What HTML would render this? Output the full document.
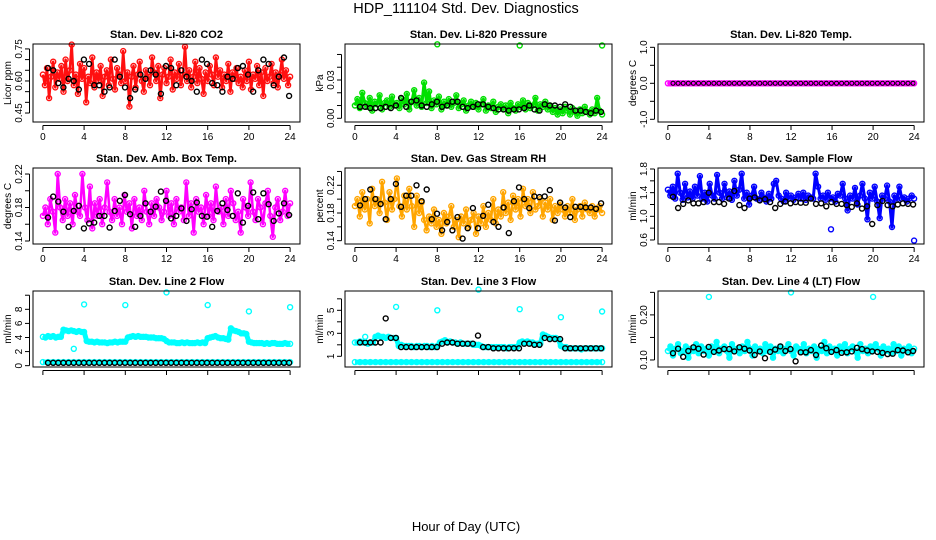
<!DOCTYPE html>
<html><head><meta charset="utf-8"><style>
html,body{margin:0;padding:0;background:#fff;}
svg{display:block;font-family:"Liberation Sans",sans-serif;}
</style></head><body>
<svg id="chart" width="936" height="540" viewBox="0 0 936 540">
<text x="466" y="13" text-anchor="middle" font-size="14.5">HDP_111104  Std. Dev. Diagnostics</text>
<text x="466" y="531" text-anchor="middle" font-size="13">Hour of Day (UTC)</text>
</svg>
<script>
// ---- data ----
const xTicks = [0,4,8,12,16,20,24];
const co2Color = [0.63,0.58,0.66,0.52,0.62,0.69,0.57,0.64,0.61,0.67,0.55,0.70,0.60,0.65,0.77,0.58,0.63,0.54,0.68,0.61,0.66,0.50,0.62,0.59,0.71,0.57,0.64,0.60,0.67,0.53,0.62,0.65,0.58,0.70,0.61,0.56,0.66,0.63,0.59,0.74,0.60,0.64,0.48,0.62,0.67,0.57,0.63,0.69,0.60,0.55,0.65,0.62,0.58,0.71,0.64,0.60,0.67,0.52,0.63,0.66,0.59,0.62,0.70,0.56,0.64,0.61,0.68,0.58,0.63,0.76,0.60,0.65,0.57,0.62,0.69,0.59,0.66,0.61,0.54,0.64,0.60,0.67,0.63,0.58,0.71,0.62,0.65,0.57,0.63,0.60,0.68,0.55,0.64,0.61,0.66,0.59,0.62,0.57,0.65,0.60,0.69,0.56,0.63,0.61,0.67,0.58,0.64,0.53,0.66,0.60,0.62,0.68,0.59,0.64,0.57,0.63,0.70,0.61,0.65,0.58,0.62];
const co2Black = [0.66,0.65,0.59,0.57,0.61,0.60,0.56,0.70,0.68,0.58,0.58,0.55,0.57,0.70,0.62,0.57,0.52,0.56,0.63,0.61,0.65,0.63,0.54,0.67,0.66,0.58,0.65,0.62,0.60,0.55,0.70,0.68,0.59,0.58,0.55,0.62,0.61,0.66,0.67,0.63,0.55,0.65,0.70,0.68,0.58,0.62,0.71,0.53];
const presColor = [0.010,0.015,0.008,0.020,0.012,0.009,0.016,0.006,0.013,0.011,0.018,0.007,0.012,0.014,0.009,0.017,0.010,0.012,0.008,0.015,0.011,0.019,0.007,0.013,0.022,0.010,0.016,0.009,0.028,0.012,0.021,0.008,0.014,0.011,0.017,0.007,0.013,0.010,0.015,0.009,0.012,0.018,0.008,0.011,0.014,0.006,0.010,0.013,0.009,0.012,0.007,0.011,0.015,0.006,0.010,0.008,0.013,0.005,0.009,0.011,0.007,0.010,0.004,0.012,0.008,0.006,0.011,0.009,0.014,0.007,0.012,0.008,0.010,0.016,0.006,0.011,0.009,0.013,0.007,0.010,0.005,0.008,0.003,0.007,0.004,0.009,0.006,0.003,0.008,0.005,0.002,0.007,0.004,0.009,0.005,0.003,0.007,0.004,0.016,0.006,0.003];
const presBlack = [0.009,0.009,0.008,0.008,0.008,0.009,0.008,0.010,0.016,0.009,0.013,0.014,0.010,0.009,0.011,0.013,0.009,0.010,0.013,0.013,0.009,0.008,0.009,0.011,0.011,0.009,0.008,0.007,0.007,0.006,0.007,0.007,0.008,0.010,0.007,0.006,0.011,0.010,0.010,0.009,0.011,0.009,0.006,0.006,0.005,0.004,0.006,0.005];
const presSpikeHours = [8,16,24];
const presSpikeVals = [0.058,0.057,0.057];
const tempColor = [0,0,0,0,0,0,0,0,0,0,0,0,0,0,0,0,0,0,0,0,0,0,0,0,0,0,0,0,0,0,0,0,0,0,0,0,0,0,0,0,0,0,0,0,0,0,0,0,0,0,0,0,0,0,0,0,0,0,0,0,0,0,0,0,0,0,0,0,0,0,0,0,0,0,0,0,0,0,0,0,0,0,0,0,0,0,0,0,0,0,0,0,0,0,0,0,0];
const tempBlack = [0,0,0,0,0,0,0,0,0,0,0,0,0,0,0,0,0,0,0,0,0,0,0,0,0,0,0,0,0,0,0,0,0,0,0,0,0,0,0,0,0,0,0,0,0,0,0,0];
const ambColor = [0.17,0.18,0.16,0.19,0.175,0.15,0.22,0.18,0.165,0.19,0.17,0.185,0.16,0.195,0.175,0.17,0.22,0.18,0.165,0.205,0.155,0.185,0.17,0.19,0.16,0.18,0.21,0.175,0.165,0.19,0.17,0.18,0.16,0.195,0.175,0.185,0.155,0.19,0.17,0.18,0.165,0.2,0.175,0.16,0.185,0.17,0.19,0.18,0.165,0.175,0.2,0.17,0.185,0.16,0.19,0.175,0.18,0.165,0.21,0.17,0.185,0.15,0.19,0.175,0.18,0.16,0.195,0.17,0.185,0.165,0.205,0.175,0.18,0.16,0.19,0.17,0.2,0.185,0.165,0.175,0.15,0.19,0.18,0.17,0.21,0.175,0.165,0.19,0.18,0.16,0.185,0.2,0.17,0.145,0.18,0.19,0.165,0.175,0.2,0.17,0.185];
const ambBlack = [0.168,0.193,0.187,0.175,0.157,0.176,0.182,0.155,0.161,0.162,0.170,0.170,0.156,0.176,0.188,0.195,0.172,0.157,0.170,0.185,0.175,0.181,0.199,0.188,0.167,0.170,0.179,0.164,0.178,0.186,0.170,0.169,0.157,0.176,0.185,0.177,0.170,0.197,0.162,0.182,0.198,0.166,0.197,0.184,0.164,0.173,0.185,0.171];
const rhColor = [0.19,0.2,0.175,0.21,0.185,0.2,0.165,0.215,0.19,0.2,0.18,0.225,0.195,0.17,0.21,0.185,0.2,0.23,0.19,0.175,0.205,0.185,0.215,0.19,0.16,0.205,0.18,0.195,0.17,0.155,0.175,0.165,0.185,0.16,0.17,0.15,0.18,0.165,0.175,0.19,0.16,0.17,0.145,0.175,0.165,0.185,0.16,0.17,0.18,0.15,0.175,0.165,0.19,0.16,0.18,0.17,0.2,0.165,0.185,0.175,0.21,0.18,0.195,0.17,0.205,0.185,0.2,0.175,0.215,0.19,0.2,0.18,0.21,0.185,0.19,0.2,0.175,0.195,0.185,0.2,0.17,0.19,0.18,0.195,0.185,0.175,0.19,0.18,0.2,0.17,0.185,0.19,0.175,0.195,0.185,0.18,0.19,0.175,0.185,0.19,0.18];
const rhBlack = [0.191,0.200,0.214,0.200,0.193,0.171,0.200,0.222,0.189,0.205,0.205,0.220,0.197,0.214,0.171,0.179,0.155,0.167,0.155,0.174,0.143,0.158,0.187,0.158,0.176,0.192,0.167,0.160,0.188,0.151,0.197,0.217,0.200,0.187,0.204,0.203,0.204,0.213,0.169,0.195,0.188,0.174,0.189,0.189,0.188,0.188,0.186,0.194];
const flowColor = [1.45,1.35,1.5,1.3,1.72,1.4,1.28,1.55,1.32,1.42,1.3,1.5,1.35,1.68,1.3,1.4,1.25,1.55,1.35,1.3,1.7,1.4,1.3,1.55,1.32,1.42,1.28,1.6,1.35,1.45,1.72,1.3,1.4,1.2,1.35,1.5,1.3,1.28,1.4,1.32,1.25,1.38,1.3,1.55,1.6,1.35,1.3,1.25,1.4,1.3,1.35,1.28,1.32,1.38,1.3,1.4,1.28,1.35,1.32,1.3,1.72,1.5,1.3,1.35,1.28,1.4,1.3,1.32,1.25,1.38,1.35,1.55,1.3,1.1,1.35,1.3,1.48,1.2,1.35,1.55,1.3,0.95,1.4,1.3,1.5,1.25,0.97,1.35,1.3,1.52,1.25,0.82,1.35,1.28,1.5,1.3,1.32,1.25,1.3,1.35,1.3];
const flowBlack = [1.33,1.14,1.21,1.27,1.22,1.22,1.24,1.40,1.24,1.24,1.21,1.30,1.43,1.19,1.14,1.30,1.32,1.27,1.29,1.24,1.14,1.21,1.25,1.22,1.24,1.23,1.23,1.30,1.21,1.22,1.17,1.24,1.21,1.21,1.19,1.16,1.22,1.13,1.17,0.87,1.19,1.26,1.19,1.17,1.20,1.22,1.21,1.20];
const flowLowHours = [15.9,24];
const flowLowVals = [0.78,0.59];
const l2Color = [4.1,4.0,4.2,4.1,4.2,4.0,4.1,4.1,5.1,5.0,4.9,5.0,4.9,4.8,4.9,4.8,4.8,3.5,3.4,3.4,3.3,3.4,3.3,3.3,3.3,3.2,3.3,3.3,3.4,3.3,3.4,3.4,3.4,4.0,4.1,4.2,4.1,4.2,4.1,4.1,4.1,4.0,4.0,4.0,3.9,3.9,3.9,3.8,3.5,3.3,3.3,3.3,3.2,3.2,3.3,3.2,3.3,3.2,3.2,3.2,3.3,3.2,3.3,3.2,3.9,4.0,4.1,4.2,4.0,3.9,3.9,3.8,3.7,5.3,5.0,4.9,4.8,4.6,4.6,4.5,3.4,3.3,3.2,3.2,3.2,3.2,3.1,3.2,3.1,3.2,3.2,3.1,3.1,3.1,3.2,3.1,3.1];
const l2Low = [0.5,0.5,0.5,0.5,0.5,0.5,0.5,0.5,0.5,0.5,0.5,0.5,0.5,0.5,0.5,0.5,0.5,0.5,0.5,0.5,0.5,0.5,0.5,0.5,0.5,0.5,0.5,0.5,0.5,0.5,0.5,0.5,0.5,0.5,0.5,0.5,0.5,0.5,0.5,0.5,0.5,0.5,0.5,0.5,0.5,0.5,0.5,0.5,0.5];
const l2Black = [0.4,0.4,0.4,0.4,0.4,0.4,0.4,0.4,0.4,0.4,0.4,0.4,0.4,0.4,0.4,0.4,0.4,0.4,0.4,0.4,0.4,0.4,0.4,0.4,0.4,0.4,0.4,0.4,0.4,0.4,0.4,0.4,0.4,0.4,0.4,0.4,0.4,0.4,0.4,0.4,0.4,0.4,0.4,0.4,0.4,0.4,0.4,0.4];
const l2SpikeHours = [3.0,4,8,12,16,20,24];
const l2SpikeVals = [2.4,8.7,8.6,10.4,8.6,7.7,8.3];
const l3Color = [2.2,2.2,2.3,2.2,2.2,2.1,2.2,2.2,2.7,2.8,2.7,2.7,2.6,2.7,2.6,2.6,2.6,1.9,2.0,1.9,1.9,1.9,1.9,1.8,1.9,1.9,1.8,1.9,1.9,1.8,1.9,1.8,1.9,2.2,2.3,2.4,2.2,2.3,2.2,2.2,2.1,2.2,2.1,2.1,2.1,2.1,2.0,2.0,2.0,1.9,1.8,1.8,1.8,1.8,1.8,1.8,1.8,1.8,1.8,1.7,1.8,1.8,1.8,1.8,2.2,2.3,2.2,2.3,2.2,2.2,2.1,2.1,2.1,2.9,2.8,2.7,2.6,2.6,2.6,2.5,1.9,1.8,1.8,1.7,1.7,1.7,1.7,1.7,1.6,1.7,1.7,1.7,1.7,1.7,1.7,1.7,1.7];
const l3Low = [0.5,0.5,0.5,0.5,0.5,0.5,0.5,0.5,0.5,0.5,0.5,0.5,0.5,0.5,0.5,0.5,0.5,0.5,0.5,0.5,0.5,0.5,0.5,0.5,0.5,0.5,0.5,0.5,0.5,0.5,0.5,0.5,0.5,0.5,0.5,0.5,0.5,0.5,0.5,0.5,0.5,0.5,0.5,0.5,0.5,0.5,0.5,0.5,0.5];
const l3Black = [2.2,2.2,2.2,2.2,2.2,4.3,2.6,2.6,1.8,1.8,1.8,1.8,1.8,1.8,1.8,1.8,2.1,2.2,2.2,2.1,2.1,2.1,2.1,2.8,1.8,1.8,1.7,1.7,1.7,1.7,1.7,1.7,2.1,2.1,2.0,2.0,2.6,2.5,2.5,2.5,1.7,1.7,1.7,1.7,1.7,1.7,1.7,1.7];
const l3SpikeHours = [1.0,4,8,12,16,20,24];
const l3SpikeVals = [2.7,5.3,5.0,6.8,5.1,4.4,4.9];
const l4Color = [0.12,0.13,0.11,0.125,0.135,0.115,0.12,0.13,0.105,0.125,0.12,0.135,0.115,0.13,0.12,0.125,0.11,0.13,0.12,0.14,0.115,0.125,0.13,0.12,0.105,0.135,0.12,0.125,0.115,0.13,0.12,0.14,0.125,0.11,0.13,0.12,0.125,0.115,0.135,0.12,0.13,0.105,0.125,0.12,0.13,0.115,0.125,0.135,0.12,0.11,0.13,0.125,0.12,0.135,0.115,0.125,0.12,0.13,0.105,0.125,0.12,0.14,0.115,0.13,0.12,0.125,0.11,0.13,0.12,0.135,0.115,0.125,0.13,0.12,0.105,0.135,0.12,0.125,0.115,0.13,0.12,0.135,0.125,0.11,0.13,0.12,0.125,0.115,0.135,0.12,0.13,0.11,0.125,0.12,0.13,0.115,0.125];
const l4Black = [0.115,0.125,0.107,0.120,0.128,0.125,0.112,0.129,0.118,0.121,0.124,0.124,0.119,0.128,0.125,0.121,0.111,0.119,0.104,0.118,0.123,0.130,0.120,0.124,0.097,0.117,0.117,0.122,0.111,0.132,0.126,0.118,0.122,0.116,0.117,0.119,0.127,0.124,0.121,0.119,0.118,0.116,0.113,0.114,0.122,0.121,0.117,0.120];
const l4SpikeHours = [4,12,20];
const l4SpikeVals = [0.24,0.25,0.24];

// ---- layout ----
const NS = "http://www.w3.org/2000/svg";
const svg = document.getElementById('chart');
const cols = [{x0:33,x1:300},{x0:345,x1:612},{x0:658,x1:924}];
const rows = [{y0:44,y1:122},{y0:168,y1:244},{y0:291,y1:367}];
function mk(tag, attrs, parent){const e=document.createElementNS(NS,tag);for(const k in attrs)e.setAttribute(k,attrs[k]);(parent||svg).appendChild(e);return e;}

function panel(ci, ri, title, ylab, yMin, yMax, yTicks, yLabels, showXLabels, series, slug){
  const c=cols[ci], r=rows[ri];
  const g=mk('g',{});
  
  
  const xs=h=>c.x0+(h+0.96)/25.92*(c.x1-c.x0);
  const ys=v=>r.y1-(v-yMin)/(yMax-yMin)*(r.y1-r.y0);
  const t=mk('text',{x:(c.x0+c.x1)/2,y:r.y0-6,'text-anchor':'middle','font-size':'11','font-weight':'bold'},g);
  t.textContent=title;
  
  
  const yl=mk('text',{x:0,y:0,'text-anchor':'middle','font-size':'10',transform:`translate(${c.x0-22},${(r.y0+r.y1)/2}) rotate(-90)`},g);
  yl.textContent=ylab;
  
  
  // points
  series.forEach(s=>{
    const sg=mk('g',{fill:'none',stroke:s.color,'stroke-width':s.sw||1.4},g);
    
    
    const n=s.vals.length;
    const pts=s.vals.map((v,i)=>{
      const h = s.hours ? s.hours[i] : (s.h0||0) + i*((s.h1||24)-(s.h0||0))/(n-1);
      return [xs(h), ys(v)];
    });
    if(s.band){
      const pl=mk('polyline',{points:pts.map(p=>p[0].toFixed(1)+','+p[1].toFixed(1)).join(' '),'stroke-width':s.band,'stroke-linejoin':'round'},sg);
      
      
    }
    pts.forEach(p=>{
      const cc=mk('circle',{cx:p[0].toFixed(1),cy:p[1].toFixed(1),r:s.r||2.5},sg);
      
      
    });
  });
  const box=mk('rect',{x:c.x0,y:r.y0,width:c.x1-c.x0,height:r.y1-r.y0,fill:'none',stroke:'#000','stroke-width':1},g);
  
  
  // x axis
  const xa=mk('g',{stroke:'#000','stroke-width':1},g);
  
  
  mk('line',{x1:xs(0),x2:xs(24),y1:r.y1+3.5,y2:r.y1+3.5},xa);
  xTicks.forEach(h=>{
    mk('line',{x1:xs(h),x2:xs(h),y1:r.y1+3.5,y2:r.y1+8},xa);
    if(showXLabels){const tl=mk('text',{x:xs(h),y:r.y1+18,'text-anchor':'middle','font-size':'10',stroke:'none'},xa);tl.textContent=h;}
  });
  // y axis
  const ya=mk('g',{stroke:'#000','stroke-width':1},g);
  
  
  mk('line',{x1:c.x0-3.5,x2:c.x0-3.5,y1:ys(yTicks[0]),y2:ys(yTicks[yTicks.length-1])},ya);
  yTicks.forEach(v=>{mk('line',{x1:c.x0-8,x2:c.x0-3.5,y1:ys(v),y2:ys(v)},ya);});
  yLabels.forEach(lab=>{
    const tl=mk('text',{x:0,y:0,'text-anchor':'middle','font-size':'10',stroke:'none',transform:`translate(${c.x0-11},${ys(parseFloat(lab))}) rotate(-90)`},ya);
    tl.textContent=lab;
  });
}

panel(0,0,'Stan. Dev. Li-820 CO2','Licor ppm',0.408,0.773,[0.45,0.5,0.55,0.6,0.65,0.7,0.75],['0.45','0.60','0.75'],true,
 [{name:'red-series',vals:co2Color,color:'#ff1010',band:2.5},{name:'black-series',vals:co2Black,color:'#000',h0:0.5,h1:23.9}],'co2');
panel(1,0,'Stan. Dev. Li-820 Pressure','kPa',-0.0029,0.0582,[0,0.01,0.02,0.03,0.04,0.05],['0.00','0.03'],true,
 [{name:'green-series',vals:presColor,color:'#00e000',band:3},{name:'black-series',vals:presBlack,color:'#000',h0:0.5,h1:23.9},{name:'green-outliers',vals:presSpikeVals,hours:presSpikeHours,color:'#00e000'}],'pressure');
panel(2,0,'Stan. Dev. Li-820 Temp.','degrees C',-1.075,1.092,[-1,-0.5,0,0.5,1],['-1.0','0.0','1.0'],true,
 [{name:'magenta-series',vals:tempColor,color:'#ff00ff',band:5},{name:'black-series',vals:tempBlack,color:'#000',h0:0.5,h1:23.9,sw:1,r:2}],'li820-temp');
panel(0,1,'Stan. Dev. Amb. Box Temp.','degrees C',0.1364,0.2272,[0.14,0.16,0.18,0.2,0.22],['0.14','0.18','0.22'],true,
 [{name:'magenta-series',vals:ambColor,color:'#ff00ff',band:2.5},{name:'black-series',vals:ambBlack,color:'#000',h0:0.5,h1:23.9}],'amb-temp');
panel(1,1,'Stan. Dev. Gas Stream RH','percent',0.1352,0.245,[0.14,0.16,0.18,0.2,0.22,0.24],['0.14','0.18','0.22'],true,
 [{name:'orange-series',vals:rhColor,color:'#ffa500',band:2.5},{name:'black-series',vals:rhBlack,color:'#000',h0:0.5,h1:23.9}],'rh');
panel(2,1,'Stan. Dev. Sample Flow','ml/min',0.532,1.817,[0.6,0.8,1.0,1.2,1.4,1.6,1.8],['0.6','1.0','1.4','1.8'],true,
 [{name:'blue-series',vals:flowColor,color:'#0000ff',band:3},{name:'black-series',vals:flowBlack,color:'#000',h0:0.5,h1:23.9},{name:'blue-outliers',vals:flowLowVals,hours:flowLowHours,color:'#0000ff'}],'sample-flow');
panel(0,2,'Stan. Dev. Line 2 Flow','ml/min',-0.19,10.6,[0,2,4,6,8,10],['0','2','4','6','8'],false,
 [{name:'cyan-series',vals:l2Color,color:'#00ffff',band:5},{name:'cyan-low-series',vals:l2Low,color:'#00ffff',band:5},{name:'black-series',vals:l2Black,color:'#000',h0:0.5,h1:23.9},{name:'cyan-outliers',vals:l2SpikeVals,hours:l2SpikeHours,color:'#00ffff'}],'line2');
panel(1,2,'Stan. Dev. Line 3 Flow','ml/min',0.07,6.68,[1,2,3,4,5,6],['1','3','5'],false,
 [{name:'cyan-series',vals:l3Color,color:'#00ffff',band:5},{name:'cyan-low-series',vals:l3Low,color:'#00ffff',band:5},{name:'black-series',vals:l3Black,color:'#000',h0:0.5,h1:23.9},{name:'cyan-outliers',vals:l3SpikeVals,hours:l3SpikeHours,color:'#00ffff'}],'line3');
panel(2,2,'Stan. Dev. Line 4 (LT) Flow','ml/min',0.0844,0.253,[0.1,0.15,0.2,0.25],['0.10','0.20'],false,
 [{name:'cyan-series',vals:l4Color,color:'#00ffff',band:4},{name:'black-series',vals:l4Black,color:'#000',h0:0.5,h1:23.9},{name:'cyan-outliers',vals:l4SpikeVals,hours:l4SpikeHours,color:'#00ffff'}],'line4');
</script>
</body></html>
